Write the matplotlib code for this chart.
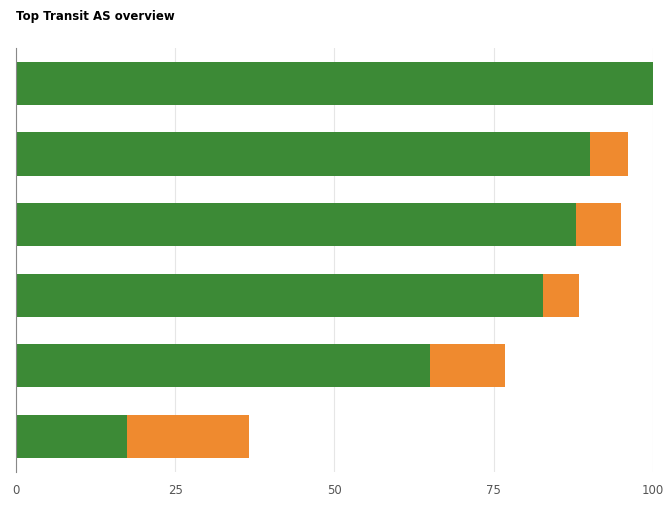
import matplotlib.pyplot as plt

# Top Transit AS overview - barras apiladas horizontales
categorias = ["AS1", "AS2", "AS3", "AS4", "AS5", "AS6"]
verde = [100, 90.1, 87.9, 82.7, 65.0, 17.4]
naranja = [0, 6.0, 7.1, 5.7, 11.8, 19.2]
ticks_x = [0, 25, 50, 75, 100]

fig = plt.figure(figsize=(6.69, 5.07), dpi=100)
ax = fig.add_axes([0.024, 0.07, 0.952, 0.835])

pos = list(range(len(categorias)))[::-1]
ax.barh(pos, verde, height=0.61, color="#3c8a36")
ax.barh(pos, naranja, left=verde, height=0.61, color="#ef8a2f")

ax.set_xlim(0, 100)
ax.set_ylim(-0.5, 5.5)
ax.set_xticks(ticks_x)
ax.set_xticklabels([str(t) for t in ticks_x], fontsize=8.5, color="#555555")
ax.set_yticks([])
ax.tick_params(axis="x", length=0, pad=9)
ax.grid(axis="x", color="#e6e6e6", linewidth=0.8)
ax.set_axisbelow(True)
for s in ["top", "right", "bottom"]:
    ax.spines[s].set_visible(False)
ax.spines["left"].set_color("#888888")

fig.text(0.024, 0.968, "Top Transit AS overview", fontsize=8.5, fontweight="bold", va="center")

plt.savefig("out.png", dpi=100)
